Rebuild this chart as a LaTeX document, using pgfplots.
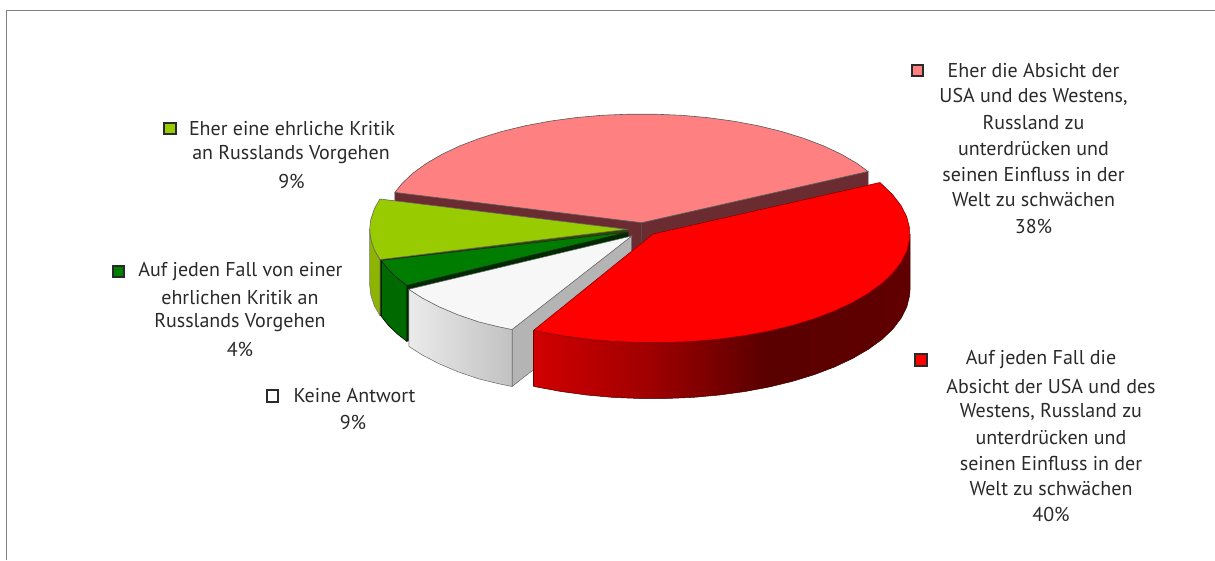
\documentclass[border=0pt]{standalone}
\usepackage{pgfplots}
\pgfplotsset{compat=1.18}
\usepackage{fontspec}
\setmainfont{PT Sans}
\definecolor{txt}{HTML}{2A2A2A}
\definecolor{keyedge}{HTML}{2A2A2A}
\definecolor{pinktop}{HTML}{FF8080}
\definecolor{pinkcut}{HTML}{6B2C31}
\definecolor{limetop}{HTML}{99CC00}
\definecolor{limeside}{HTML}{8CB400}
\definecolor{limecut}{HTML}{2F4A00}
\definecolor{greentop}{HTML}{007C00}
\definecolor{greenside}{HTML}{006A00}
\definecolor{greencut}{HTML}{002A00}
\definecolor{whitetop}{HTML}{F7F7F7}
\definecolor{whitecut}{HTML}{B4B4B4}
\pgfdeclarehorizontalshading{redrim}{100bp}{color(0bp)=(red!82!black); color(25bp)=(red!82!black); color(40bp)=(red!63!black); color(56bp)=(red!35!black); color(75bp)=(red!38!black); color(100bp)=(red!38!black)}
\pgfdeclarehorizontalshading{whiterim}{100bp}{color(0bp)=(black!8); color(25bp)=(black!8); color(75bp)=(black!24); color(100bp)=(black!24)}
\newcommand{\lab}[3]{\node[text=txt,font=\fontsize{20}{22}\selectfont,anchor=center,inner sep=0pt] at (axis cs:#1,#2) {#3};}
\begin{document}
\begin{tikzpicture}
\path[use as bounding box] (0,0) rectangle (1215pt,560pt);
\begin{axis}[
  at={(0,0)}, anchor=south west,
  scale only axis, width=1215pt, height=560pt,
  xmin=0, xmax=1215, ymin=0, ymax=560, y dir=reverse,
  axis lines=none, clip=false,
]
% frame along the top and left of the chart area
\addplot[draw=black!50, line width=1.4pt, forget plot] coordinates {(6.5,560) (6.5,10.5) (1215,10.5)};

% Eher die Absicht (38%): cut faces, then top
\addplot[fill=pinkcut, draw=black!70, line width=.5pt] coordinates {(641.7,222.7) (868,171.5) (868,229) (641.7,279)} -- cycle;
\addplot[fill=pinkcut, draw=black!70, line width=.5pt] coordinates {(394.9,192.4) (641.7,222.7) (641.7,279) (394.9,249)} -- cycle;
\addplot[fill=pinktop, draw=black!65, line width=.6pt] coordinates {
(641.7,222.7) (868,171.5) (857.2,163.5) (841.4,154.3) (823.4,145.8) (803.4,138.2) (781.7,131.5)
(758.4,125.8) (733.8,121.2) (708.2,117.7) (681.9,115.3) (655.1,114.2) (628.3,114.2) (601.5,115.3)
(575.2,117.7) (549.6,121.2) (525.0,125.8) (501.7,131.5) (480.0,138.2) (460.0,145.8) (442.0,154.3)
(426.2,163.5) (412.7,173.3) (401.8,183.7) (394.9,192.4)} -- cycle;

% Eher eine ehrliche Kritik (9%)
\addplot[fill=limecut, draw=limecut, line width=.5pt] coordinates {(379.9,259.6) (626.7,229.3) (626.7,285.3) (379.9,315.6)} -- cycle;
\addplot[fill=limeside, draw=black!55, line width=.5pt] coordinates {
(369.7,229.3) (370.7,238.8) (374.4,250.0) (379.9,259.6) (379.9,315.6) (374.4,306) (370.7,294.8) (369.7,285.3)} -- cycle;
\addplot[fill=limetop, draw=black!60, line width=.6pt] coordinates {
(626.7,229.3) (379.9,199.0) (374.4,208.6) (370.7,219.8) (369.7,229.3) (370.7,238.8) (374.4,250.0) (379.9,259.6)} -- cycle;

% Auf jeden Fall von einer ehrlichen Kritik (4%)
\addplot[fill=greencut, draw=greencut, line width=.5pt] coordinates {(406.8,285.3) (628,232) (628,288) (406.8,341.3)} -- cycle;
\addplot[fill=greenside, draw=black, line width=.6pt] coordinates {
(381.2,260.3) (388.1,269) (397,277.7) (406.8,285.3) (406.8,341.3) (397,333.7) (388.1,325) (381.2,316.3)} -- cycle;
\addplot[fill=greentop, draw=black!85, line width=.6pt] coordinates {
(628,232) (381.2,260.3) (388.1,269) (397,277.7) (406.8,285.3)} -- cycle;

% Keine Antwort (9%)
\addplot[fill=whitecut, draw=black!60, line width=.5pt] coordinates {(512,329.5) (631.7,236) (631.7,293) (512,386.5)} -- cycle;
\addplot[shade, shading=whiterim, draw=black!60, line width=.5pt] coordinates {
(408.8,289.3) (422.1,297.9) (439,306.7) (458,314.8) (478.9,321.9) (497.6,326.5) (512,329.5)
(512,386.5) (497.6,383.5) (478.9,378.9) (458,371.8) (439,363.7) (422.1,354.9) (408.8,346.3)} -- cycle;
\addplot[fill=whitetop, draw=black!60, line width=.5pt] coordinates {
(631.7,236) (408.8,289.3) (422.1,297.9) (439,306.7) (458,314.8) (478.9,321.9) (497.6,326.5) (512,329.5)} -- cycle;

% Auf jeden Fall die Absicht (40%)
\addplot[shade, shading=redrim, draw=black!60!red!60!black, line width=.5pt] coordinates {
(533.5,330.4) (560.9,335.5) (586.5,339) (612.8,341.4) (639.6,342.5) (666.4,342.5) (693.2,341.4)
(719.5,339) (745.1,335.5) (769.7,330.9) (793,325.2) (814.7,318.5) (834.7,310.9) (852.7,302.4)
(868.5,293.2) (882,283.4) (892.9,273) (901.2,262.1) (906.8,251) (909.6,239.7) (910,234)
(910,290) (909.6,295.7) (906.8,307) (901.2,318.1) (892.9,329) (882,339.4) (868.5,349.2)
(852.7,358.4) (834.7,366.9) (814.7,374.5) (793,381.2) (769.7,386.9) (745.1,391.5) (719.5,395)
(693.2,397.4) (666.4,398.5) (639.6,398.5) (612.8,397.4) (586.5,395) (560.9,391.5) (533.5,386.4)} -- cycle;
\addplot[fill=red, draw=red!55!black, line width=.6pt] coordinates {
(653,234) (533.5,330.4) (560.9,335.5) (586.5,339) (612.8,341.4) (639.6,342.5) (666.4,342.5) (693.2,341.4)
(719.5,339) (745.1,335.5) (769.7,330.9) (793,325.2) (814.7,318.5) (834.7,310.9) (852.7,302.4)
(868.5,293.2) (882,283.4) (892.9,273) (901.2,262.1) (906.8,251) (909.6,239.7) (909.6,228.3)
(906.8,217) (901.2,205.9) (892.9,195) (880,182.5)} -- cycle;

% legend keys
\addplot[only marks, mark=square*, mark size=5.6pt, mark options={draw=keyedge, line width=1.9pt, fill=pinktop}] coordinates {(917.5,70.5)};
\addplot[only marks, mark=square*, mark size=5.6pt, mark options={draw=keyedge, line width=1.9pt, fill=red}] coordinates {(921,360)};
\addplot[only marks, mark=square*, mark size=5.6pt, mark options={draw=keyedge, line width=1.9pt, fill=limetop}] coordinates {(170,128.7)};
\addplot[only marks, mark=square*, mark size=5.6pt, mark options={draw=keyedge, line width=1.9pt, fill=green!50!black}] coordinates {(118.3,271.7)};
\addplot[only marks, mark=square*, mark size=5.6pt, mark options={draw=keyedge, line width=1.9pt, fill=white}] coordinates {(272.7,396)};

% slice labels
\lab{1033.5}{71}{Eher die Absicht der}
\lab{1033.5}{97}{USA und des Westens,}
\lab{1033.5}{123}{Russland zu}
\lab{1033.5}{148.5}{unterdrücken und}
\lab{1033.5}{174.5}{seinen Einfluss in der}
\lab{1033.5}{200}{Welt zu schwächen}
\lab{1033.5}{226}{38\%}

\lab{1041}{360}{Auf jeden Fall die}
\lab{1051}{386}{Absicht der USA und des}
\lab{1051}{412}{Westens, Russland zu}
\lab{1051}{438}{unterdrücken und}
\lab{1051}{463}{seinen Einfluss in der}
\lab{1051}{489}{Welt zu schwächen}
\lab{1051}{514}{40\%}

\lab{292}{129}{Eher eine ehrliche Kritik}
\lab{291}{155}{an Russlands Vorgehen}
\lab{291.5}{181}{9\%}

\lab{240.5}{272}{Auf jeden Fall von einer}
\lab{240}{298}{ehrlichen Kritik an}
\lab{240}{323}{Russlands Vorgehen}
\lab{240}{349}{4\%}

\lab{354.5}{396}{Keine Antwort}
\lab{353}{422}{9\%}
\end{axis}
\end{tikzpicture}
\end{document}
